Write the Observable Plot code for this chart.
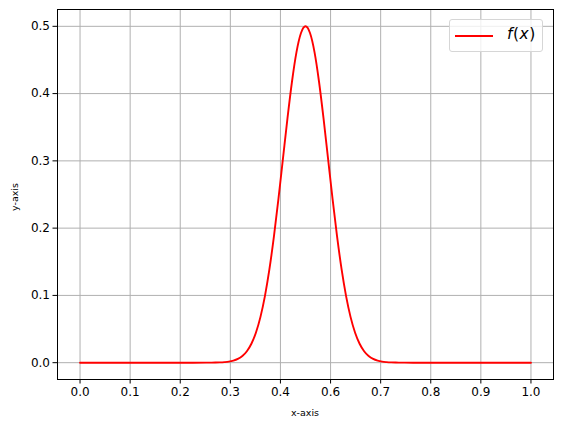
<!DOCTYPE html>
<html>
<head>
<meta charset="utf-8">
<script src="https://cdn.jsdelivr.net/npm/d3@7"></script>
<script src="https://cdn.jsdelivr.net/npm/@observablehq/plot@0.6"></script>
<style>
  body { margin: 0; background: #fff; font-family: "DejaVu Sans", sans-serif; }
  #wrap { position: relative; width: 563px; height: 428px; }
  .lbl { position: absolute; font-size: 9.5px; color: #000; white-space: nowrap; }
  #legend { position: absolute; left: 449px; top: 19px; width: 94px; height: 33px;
            border: 1px solid #d6d6d6; border-radius: 3px; background: rgba(255,255,255,0.8);
            box-sizing: border-box; }
  #legend svg { position: absolute; left: 4px; top: 14px; }
  #legend .t { position: absolute; left: 57px; top: 5px; font-size: 15.5px; letter-spacing: 0.5px; }
</style>
</head>
<body>
<div id="wrap"></div>
<script>
// curve values
const xs = [0.0, 0.1, 0.2, 0.25,
            0.28, 0.29, 0.30, 0.31, 0.32, 0.33, 0.34, 0.35, 0.36, 0.37, 0.38, 0.39,
            0.40, 0.41, 0.42, 0.43, 0.44, 0.45, 0.46, 0.47, 0.48, 0.49, 0.50,
            0.51, 0.52, 0.53, 0.54, 0.55, 0.56, 0.57, 0.58, 0.59, 0.60,
            0.61, 0.62, 0.63, 0.64, 0.65, 0.66, 0.67, 0.68, 0.69, 0.70, 0.71, 0.72,
            0.75, 0.8, 0.9, 1.0];
const ys = [0, 0, 0, 0,
            0.00003, 0.0001, 0.0002, 0.0004, 0.0008, 0.0015, 0.0030, 0.0056, 0.0099, 0.0170, 0.0281, 0.0445,
            0.0677, 0.0990, 0.1390, 0.1877, 0.2434, 0.3033, 0.3631, 0.4176, 0.4616, 0.4900, 0.5000,
            0.4900, 0.4616, 0.4176, 0.3631, 0.3033, 0.2434, 0.1877, 0.1390, 0.0990, 0.0677,
            0.0445, 0.0281, 0.0170, 0.0099, 0.0056, 0.0030, 0.0015, 0.0008, 0.0004, 0.0002, 0.0001, 0.00003,
            0, 0, 0, 0];

const xTicks = [0, 0.1111, 0.2222, 0.3333, 0.4444, 0.5556, 0.6667, 0.7778, 0.8889, 1.0];
const xTickLabels = ["0.0", "0.1", "0.2", "0.3", "0.4", "0.6", "0.7", "0.8", "0.9", "1.0"];
const yTicks = [0, 0.1, 0.2, 0.3, 0.4, 0.5];
const yTickLabels = ["0.0", "0.1", "0.2", "0.3", "0.4", "0.5"];
const seriesName = "f(x)";

const data = xs.map((x, i) => ({x, y: ys[i]}));
const xLab = new Map(xTicks.map((t, i) => [t, xTickLabels[i]]));
const yLab = new Map(yTicks.map((t, i) => [t, yTickLabels[i]]));

const chart = Plot.plot({
  width: 563, height: 428,
  marginLeft: 57, marginRight: 10, marginTop: 9, marginBottom: 49,
  style: {fontFamily: "DejaVu Sans, sans-serif", fontSize: "12px", color: "#000", background: "#fff"},
  x: {domain: [-0.05, 1.05]},
  y: {domain: [-0.025, 0.525]},
  marks: [
    Plot.gridX(xTicks, {stroke: "#b0b0b0", strokeOpacity: 1, strokeWidth: 1}),
    Plot.gridY(yTicks, {stroke: "#b0b0b0", strokeOpacity: 1, strokeWidth: 1}),
    Plot.line(data, {x: "x", y: "y", stroke: "red", strokeWidth: 1.9, curve: "monotone-x"}),
    Plot.frame({stroke: "#000", strokeWidth: 1}),
    Plot.axisX({ticks: xTicks, tickFormat: d => xLab.get(d), tickSize: 4.5, tickPadding: 3, label: null, fontSize: 12}),
    Plot.axisY({ticks: yTicks, tickFormat: d => yLab.get(d), tickSize: 4.5, tickPadding: 3, label: null, fontSize: 12})
  ]
});
const wrap = document.getElementById("wrap");
wrap.appendChild(chart);

const xl = document.createElement("div");
xl.className = "lbl"; xl.textContent = "x-axis";
xl.style.left = "305px"; xl.style.top = "407px"; xl.style.transform = "translateX(-50%)";
wrap.appendChild(xl);

const yl = document.createElement("div");
yl.className = "lbl"; yl.textContent = "y-axis";
yl.style.left = "14px"; yl.style.top = "197px";
yl.style.transform = "translate(-50%, -50%) rotate(-90deg)";
wrap.appendChild(yl);

const lg = document.createElement("div");
lg.id = "legend";
lg.innerHTML = '<svg width="42" height="4"><line x1="1" x2="39" y1="2" y2="2" stroke="red" stroke-width="1.9"/></svg>' +
  '<div class="t"><i>' + seriesName[0] + '</i>(<i>' + seriesName[2] + '</i>)</div>';
wrap.appendChild(lg);
</script>
</body>
</html>
